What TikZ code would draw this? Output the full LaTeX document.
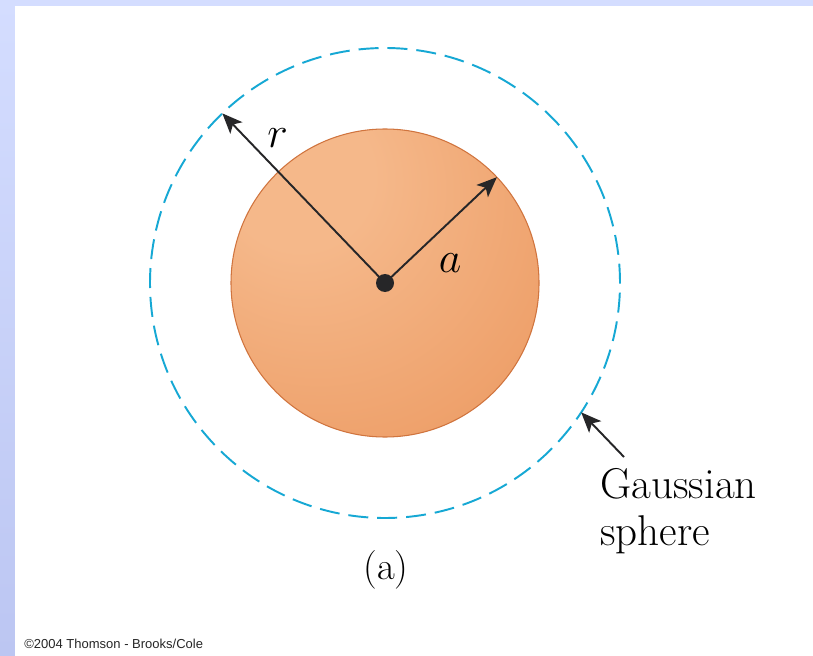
\documentclass[tikz,border=0pt]{standalone}
\usepackage{fontspec}
\newfontfamily\copyfont{Liberation Sans}
\usetikzlibrary{arrows.meta,calc}

\definecolor{bgtop}{RGB}{212,221,255}
\definecolor{bgbottom}{RGB}{188,198,242}
\definecolor{gausscyan}{RGB}{22,168,212}
\definecolor{sphlight}{RGB}{245,184,138}
\definecolor{sphmid}{RGB}{238,160,106}
\definecolor{sphdark}{RGB}{229,137,80}
\definecolor{sphedge}{RGB}{208,116,62}
\definecolor{arrowgray}{RGB}{38,38,40}

\pgfdeclareradialshading{spherelight}{\pgfpoint{-16bp}{20bp}}{%
  color(0bp)=(sphlight); color(12bp)=(sphlight);
  color(40bp)=(sphmid); color(68bp)=(sphdark); color(90bp)=(sphdark)}

\tikzset{
  radiusarrow/.style={arrowgray, line width=1.1pt,
    -{Stealth[length=11.5pt, width=9.5pt, inset=2.8pt]}},
  bigtext/.style={font=\fontsize{24.5}{26.8}\selectfont, inner sep=0pt}
}

\begin{document}
\begin{tikzpicture}

  % The background
  \useasboundingbox (0,0) rectangle (16.26,13.1);
  \shade[top color=bgtop, bottom color=bgbottom] (0,0) rectangle (16.26,13.1);
  \fill[white] (0.30,-0.1) rectangle (16.36,12.98);

  % The charged sphere of radius $a$
  \node[circle, minimum size=6.16cm, inner sep=0pt, shading=spherelight,
        draw=sphedge, line width=0.6pt] (sphere) at (7.70,7.44) {};

  % The Gaussian sphere of radius $r$
  \draw[gausscyan, line width=1.1pt, dash pattern=on 0.40cm off 0.179cm]
    (sphere.center) ++(134:4.70) arc (134:494:4.70);

  % The radii
  \coordinate (rtip) at ($(sphere.center)+(133.8:4.70)$);
  \coordinate (atip) at ($(sphere.center)+(43.4:3.08)$);
  \draw[radiusarrow] (sphere.center) -- (rtip);
  \draw[radiusarrow] (sphere.center) -- (atip);
  \node[circle, fill=arrowgray, inner sep=0pt, minimum size=0.36cm] (O) at (sphere.center) {};
  \node[bigtext] (rlabel) at (5.55,10.33) {$r$};
  \node[bigtext] (alabel) at (9.00,7.84) {$a$};

  % The label of the Gaussian sphere
  \node[bigtext, align=left, anchor=north west] (gauss) at (12.00,3.74)
    {Gaussian\\sphere};
  \coordinate (gtip) at ($(sphere.center)+(-33.4:4.70)$);
  \draw[radiusarrow] ([xshift=0.48cm, yshift=0.22cm]gauss.north west) -- (gtip);

  % The caption
  \node[font=\fontsize{22}{25}\selectfont, inner sep=0pt] (caption) at (7.72,1.70) {(a)};
  \node[font=\copyfont\fontsize{7.4}{9}\selectfont, anchor=west, inner sep=0pt,
        text=black!85] (copy) at (0.48,0.22) {\textcopyright 2004 Thomson - Brooks/Cole};

\end{tikzpicture}
\end{document}
